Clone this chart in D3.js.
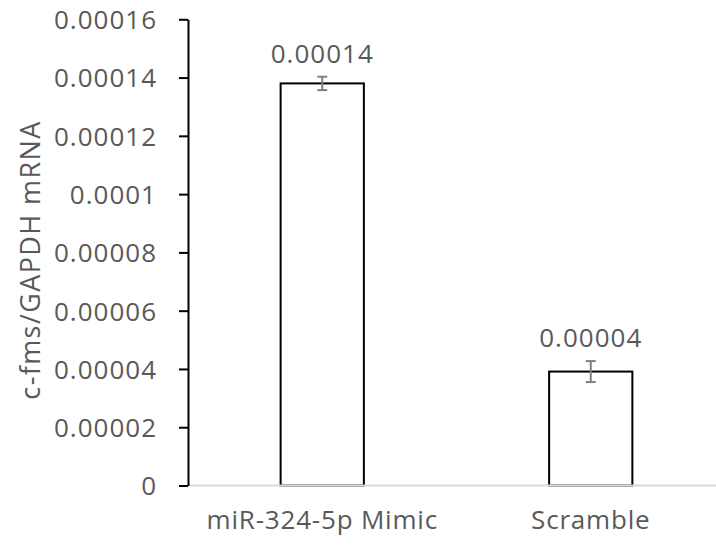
<!DOCTYPE html>
<html>
<head>
<meta charset="utf-8">
<script src="https://cdn.jsdelivr.net/npm/d3@7"></script>
<style>
  html, body { margin: 0; padding: 0; background: #fff; }
  svg text { font-family: "Open Sans", sans-serif; fill: #595959; }
</style>
</head>
<body>
<svg id="chart" width="716" height="545"></svg>
<script>
const categories = ["miR-324-5p Mimic", "Scramble"];
const values = [0.000138, 0.0000391];
const errors = [0.0000023, 0.0000036];
const dataLabels = ["0.00014", "0.00004"];
const yTicks = [0, 0.00002, 0.00004, 0.00006, 0.00008, 0.0001, 0.00012, 0.00014, 0.00016];
const yTickLabels = ["0", "0.00002", "0.00004", "0.00006", "0.00008", "0.0001", "0.00012", "0.00014", "0.00016"];
const yTitle = "c-fms/GAPDH mRNA";

const svg = d3.select("#chart");
const y = d3.scaleLinear().domain([0, 0.00016]).range([485.5, 19.3]);
const x = d3.scaleBand().domain(categories).range([188, 725])
  .paddingInner(0.69).paddingOuter(0.345);

const fontSize = 26;
const ls = "1px";

// bars
svg.selectAll("rect.bar").data(values).join("rect")
  .attr("class", "bar")
  .attr("x", (d, i) => x(categories[i]))
  .attr("width", x.bandwidth())
  .attr("y", d => y(d))
  .attr("height", d => y(0) - y(d))
  .attr("fill", "#fff")
  .attr("stroke", "#000")
  .attr("stroke-width", 2);

// baseline
svg.append("line")
  .attr("x1", 188).attr("x2", 716)
  .attr("y1", y(0)).attr("y2", y(0))
  .attr("stroke", "#d9d9d9").attr("stroke-width", 2);

// error bars
const eb = svg.append("g").attr("stroke", "#7f7f7f").attr("stroke-width", 2);
values.forEach((v, i) => {
  const cx = x(categories[i]) + x.bandwidth() / 2;
  const top = y(v + errors[i]), bot = y(v - errors[i]);
  eb.append("line").attr("x1", cx).attr("x2", cx).attr("y1", top).attr("y2", bot);
  eb.append("line").attr("x1", cx - 5).attr("x2", cx + 5).attr("y1", top).attr("y2", top);
  eb.append("line").attr("x1", cx - 5).attr("x2", cx + 5).attr("y1", bot).attr("y2", bot);
});

// data labels
svg.selectAll("text.dl").data(values).join("text")
  .attr("class", "dl")
  .attr("x", (d, i) => x(categories[i]) + x.bandwidth() / 2)
  .attr("y", (d, i) => y(d + errors[i]) - 14)
  .attr("text-anchor", "middle")
  .style("font-size", fontSize + "px")
  .style("letter-spacing", ls)
  .text((d, i) => dataLabels[i]);

// y axis
const yAxis = d3.axisLeft(y).tickValues(yTicks)
  .tickFormat((d, i) => yTickLabels[i])
  .tickSize(9).tickSizeOuter(0).tickPadding(22);
const ga = svg.append("g").attr("transform", "translate(188,0)").call(yAxis);
ga.select(".domain").attr("stroke", "#000").attr("stroke-width", 2);
ga.selectAll(".tick line").attr("stroke", "#000").attr("stroke-width", 2);
ga.selectAll(".tick text")
  .style("font-size", fontSize + "px")
  .style("letter-spacing", ls)
  .attr("fill", "#595959")
  .attr("dy", "0.36em");

// x labels
svg.selectAll("text.xl").data(categories).join("text")
  .attr("class", "xl")
  .attr("x", d => x(d) + x.bandwidth() / 2)
  .attr("y", 529)
  .attr("text-anchor", "middle")
  .style("font-size", fontSize + "px")
  .style("letter-spacing", "0.8px")
  .text(d => d);

// y title
svg.append("text")
  .attr("transform", "translate(40,260) rotate(-90)")
  .attr("text-anchor", "middle")
  .style("font-size", "27px")
  .style("letter-spacing", "1.4px")
  .text(yTitle);
</script>
</body>
</html>
